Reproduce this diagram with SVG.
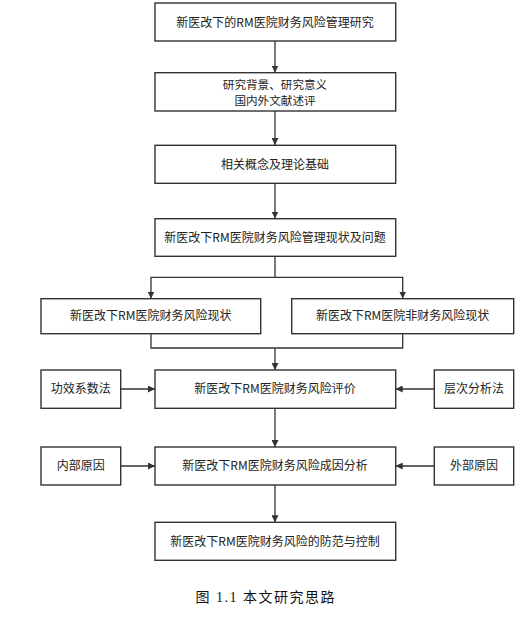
<svg xmlns="http://www.w3.org/2000/svg" width="532" height="623" viewBox="0 0 532 623">
<style>
.box{fill:#fff;stroke:#333;stroke-width:1.4}
.t{font-family:"Noto Sans CJK SC","Microsoft YaHei",sans-serif;font-size:12px;fill:#222;text-anchor:middle}
.ln{fill:none;stroke:#333;stroke-width:1.3}
.cap{font-family:"Liberation Serif","Noto Sans CJK SC",serif;font-size:14px;fill:#111;letter-spacing:1.5px}
</style>
<defs>
<marker id="ah" viewBox="0 0 10 10" refX="10" refY="5" markerWidth="7" markerHeight="7" markerUnits="userSpaceOnUse" orient="auto">
<path d="M0,0 L10,5 L0,10 z" fill="#333"/>
</marker>
</defs>
<rect width="532" height="623" fill="#fff"/>
<g id="connectors">
<line class="ln" x1="275" y1="41" x2="275" y2="72.5" marker-end="url(#ah)"/>
<line class="ln" x1="275" y1="111" x2="275" y2="145" marker-end="url(#ah)"/>
<line class="ln" x1="275" y1="183.5" x2="275" y2="218.5" marker-end="url(#ah)"/>
<polyline class="ln" points="275,256.5 275,277.3 151,277.3 151,298.5" marker-end="url(#ah)"/>
<polyline class="ln" points="275,277.3 402.7,277.3 402.7,298.5" marker-end="url(#ah)"/>
<polyline class="ln" points="151,333.7 151,348 402.7,348 402.7,333.7"/>
<line class="ln" x1="275" y1="348" x2="275" y2="370" marker-end="url(#ah)"/>
<line class="ln" x1="120.7" y1="389" x2="155" y2="389" marker-end="url(#ah)"/>
<line class="ln" x1="434.3" y1="389" x2="395.7" y2="389" marker-end="url(#ah)"/>
<line class="ln" x1="275" y1="408.3" x2="275" y2="447" marker-end="url(#ah)"/>
<line class="ln" x1="120.7" y1="466" x2="155" y2="466" marker-end="url(#ah)"/>
<line class="ln" x1="434.3" y1="466" x2="395.7" y2="466" marker-end="url(#ah)"/>
<line class="ln" x1="275" y1="485" x2="275" y2="522.3" marker-end="url(#ah)"/>
</g>
<g id="n1"><rect class="box" x="155" y="3" width="240.7" height="38"/><text class="t" x="275" y="26.7">新医改下的RM医院财务风险管理研究</text></g>
<g id="n2"><rect class="box" x="155" y="72.7" width="240.7" height="38.3"/><text class="t" x="275" y="88.6" style="font-size:11.6px">研究背景、研究意义</text><text class="t" x="275" y="105" style="font-size:11.6px">国内外文献述评</text></g>
<g id="n3"><rect class="box" x="155" y="145.3" width="240.7" height="38"/><text class="t" x="275" y="168.7">相关概念及理论基础</text></g>
<g id="n4"><rect class="box" x="155" y="218.7" width="240.7" height="37.6"/><text class="t" x="275" y="241.7">新医改下RM医院财务风险管理现状及问题</text></g>
<g id="n5"><rect class="box" x="41" y="298.7" width="219.7" height="35"/><text class="t" x="150.8" y="320.3">新医改下RM医院财务风险现状</text></g>
<g id="n6"><rect class="box" x="291.7" y="298.7" width="222" height="35"/><text class="t" x="402.7" y="320.3">新医改下RM医院非财务风险现状</text></g>
<g id="n7"><rect class="box" x="155" y="370" width="240.7" height="38.3"/><text class="t" x="275" y="393.3">新医改下RM医院财务风险评价</text></g>
<g id="n8"><rect class="box" x="41" y="370" width="79.7" height="38.3"/><text class="t" x="80.8" y="393.3">功效系数法</text></g>
<g id="n9"><rect class="box" x="434.3" y="370" width="79.4" height="38.3"/><text class="t" x="474" y="393.3">层次分析法</text></g>
<g id="n10"><rect class="box" x="155" y="447" width="240.7" height="38"/><text class="t" x="275" y="470.3">新医改下RM医院财务风险成因分析</text></g>
<g id="n11"><rect class="box" x="41" y="447" width="79.7" height="38"/><text class="t" x="80.8" y="470.3">内部原因</text></g>
<g id="n12"><rect class="box" x="434.3" y="447" width="79.4" height="38"/><text class="t" x="474" y="470.3">外部原因</text></g>
<g id="n13"><rect class="box" x="155" y="522.3" width="240.7" height="38"/><text class="t" x="275" y="545.7">新医改下RM医院财务风险的防范与控制</text></g>
<text class="cap" x="195.5" y="602">图 1.1 本文研究思路</text>
</svg>
